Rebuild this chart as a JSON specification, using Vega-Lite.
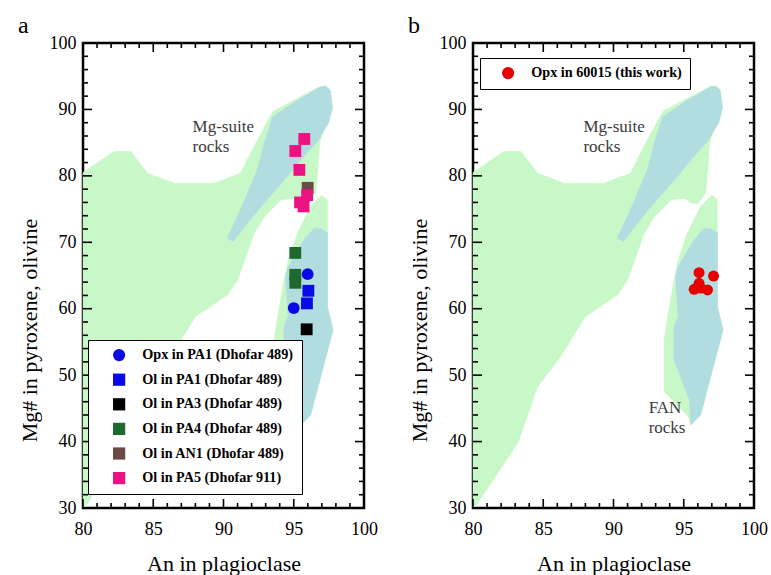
{
  "$schema": "https://vega.github.io/schema/vega-lite/v6.json",
  "padding": {"left": 16, "top": 12, "right": 0, "bottom": 0},
  "spacing": 27,
  "config": {
    "view": {"stroke": "black", "strokeWidth": 2.5},
    "font": "Liberation Serif",
    "axis": {
      "labelFont": "Liberation Serif", "labelFontSize": 18, "labelColor": "black", "labelFlush": false,
      "titleFont": "Liberation Serif", "titleFontSize": 22, "titleFontWeight": "normal", "titleColor": "black",
      "domain": false, "grid": false, "ticks": false
    },
    "tick": {"thickness": 1.6, "color": "black", "opacity": 1},
    "title": {"font": "Liberation Serif", "fontSize": 24, "fontWeight": "normal", "anchor": "start", "frame": "bounds", "color": "black"},
    "legend": {"labelFont": "Liberation Serif", "labelFontWeight": "bold", "labelFontSize": 14.2, "labelLimit": 400}
  },
  "datasets": {
    "green": [
      {"poly": "g1", "i": 1, "an": 80, "mg": 30},
      {"poly": "g1", "i": 2, "an": 80, "mg": 80.5},
      {"poly": "g1", "i": 3, "an": 82.2, "mg": 83.7},
      {"poly": "g1", "i": 4, "an": 83.4, "mg": 83.7},
      {"poly": "g1", "i": 5, "an": 84.6, "mg": 80.4},
      {"poly": "g1", "i": 6, "an": 86.5, "mg": 78.9},
      {"poly": "g1", "i": 7, "an": 89.3, "mg": 78.9},
      {"poly": "g1", "i": 8, "an": 91.2, "mg": 80.4},
      {"poly": "g1", "i": 9, "an": 92.3, "mg": 85},
      {"poly": "g1", "i": 10, "an": 93.5, "mg": 89.7},
      {"poly": "g1", "i": 11, "an": 96.9, "mg": 93.5},
      {"poly": "g1", "i": 12, "an": 97.3, "mg": 93.5},
      {"poly": "g1", "i": 13, "an": 97.6, "mg": 92.9},
      {"poly": "g1", "i": 14, "an": 97.75, "mg": 90.2},
      {"poly": "g1", "i": 15, "an": 97.2, "mg": 87.5},
      {"poly": "g1", "i": 16, "an": 96.85, "mg": 85},
      {"poly": "g1", "i": 17, "an": 96.7, "mg": 80.4},
      {"poly": "g1", "i": 18, "an": 96.55, "mg": 77.3},
      {"poly": "g1", "i": 19, "an": 96.0, "mg": 75.8},
      {"poly": "g1", "i": 20, "an": 95.5, "mg": 75.9},
      {"poly": "g1", "i": 21, "an": 95.1, "mg": 76.6},
      {"poly": "g1", "i": 22, "an": 94.1, "mg": 76.4},
      {"poly": "g1", "i": 23, "an": 92.9, "mg": 73.8},
      {"poly": "g1", "i": 24, "an": 92.2, "mg": 71.4},
      {"poly": "g1", "i": 25, "an": 91.0, "mg": 64.3},
      {"poly": "g1", "i": 26, "an": 90.3, "mg": 62.1},
      {"poly": "g1", "i": 27, "an": 88.0, "mg": 58.8},
      {"poly": "g1", "i": 28, "an": 86.2, "mg": 52.7},
      {"poly": "g1", "i": 29, "an": 84.6, "mg": 48.2},
      {"poly": "g1", "i": 30, "an": 83.2, "mg": 39.8},
      {"poly": "g1", "i": 31, "an": 80.3, "mg": 30.6},
      {"poly": "g2", "i": 1, "an": 96.98, "mg": 77.1},
      {"poly": "g2", "i": 2, "an": 97.4, "mg": 76.4},
      {"poly": "g2", "i": 3, "an": 97.4, "mg": 60.3},
      {"poly": "g2", "i": 4, "an": 97.8, "mg": 56.8},
      {"poly": "g2", "i": 5, "an": 96.2, "mg": 44.0},
      {"poly": "g2", "i": 6, "an": 95.5, "mg": 42.5},
      {"poly": "g2", "i": 7, "an": 95.3, "mg": 43.8},
      {"poly": "g2", "i": 8, "an": 93.6, "mg": 47.5},
      {"poly": "g2", "i": 9, "an": 93.6, "mg": 55.3},
      {"poly": "g2", "i": 10, "an": 93.9, "mg": 59.4},
      {"poly": "g2", "i": 11, "an": 94.3, "mg": 64.3},
      {"poly": "g2", "i": 12, "an": 94.6, "mg": 67.3},
      {"poly": "g2", "i": 13, "an": 95.26, "mg": 71.4},
      {"poly": "g2", "i": 14, "an": 96.2, "mg": 75.4}
    ],
    "blue": [
      {"poly": "b1", "i": 1, "an": 90.26, "mg": 70.6},
      {"poly": "b1", "i": 2, "an": 90.7, "mg": 70.1},
      {"poly": "b1", "i": 3, "an": 91.9, "mg": 73.4},
      {"poly": "b1", "i": 4, "an": 93.1, "mg": 76.4},
      {"poly": "b1", "i": 5, "an": 94.55, "mg": 79.9},
      {"poly": "b1", "i": 6, "an": 95.5, "mg": 82.4},
      {"poly": "b1", "i": 7, "an": 96.7, "mg": 85.2},
      {"poly": "b1", "i": 8, "an": 97.5, "mg": 88},
      {"poly": "b1", "i": 9, "an": 97.76, "mg": 90.2},
      {"poly": "b1", "i": 10, "an": 97.6, "mg": 92.9},
      {"poly": "b1", "i": 11, "an": 97.29, "mg": 93.5},
      {"poly": "b1", "i": 12, "an": 96.9, "mg": 93.4},
      {"poly": "b1", "i": 13, "an": 95.26, "mg": 91.4},
      {"poly": "b1", "i": 14, "an": 93.5, "mg": 88.9},
      {"poly": "b1", "i": 15, "an": 92.9, "mg": 85},
      {"poly": "b1", "i": 16, "an": 92.4, "mg": 80.9},
      {"poly": "b1", "i": 17, "an": 91.2, "mg": 74.9},
      {"poly": "b2", "i": 1, "an": 96.45, "mg": 72.1},
      {"poly": "b2", "i": 2, "an": 97.0, "mg": 72.0},
      {"poly": "b2", "i": 3, "an": 97.4, "mg": 71.4},
      {"poly": "b2", "i": 4, "an": 97.4, "mg": 60.3},
      {"poly": "b2", "i": 5, "an": 97.8, "mg": 56.8},
      {"poly": "b2", "i": 6, "an": 96.2, "mg": 44.0},
      {"poly": "b2", "i": 7, "an": 95.5, "mg": 42.5},
      {"poly": "b2", "i": 8, "an": 95.4, "mg": 46.3},
      {"poly": "b2", "i": 9, "an": 94.3, "mg": 52.3},
      {"poly": "b2", "i": 10, "an": 94.3, "mg": 57.3},
      {"poly": "b2", "i": 11, "an": 94.6, "mg": 58.8},
      {"poly": "b2", "i": 12, "an": 94.4, "mg": 64.8},
      {"poly": "b2", "i": 13, "an": 94.6, "mg": 66.3},
      {"poly": "b2", "i": 14, "an": 95.7, "mg": 70.3}
    ],
    "xMajor": [{"v": 80}, {"v": 85}, {"v": 90}, {"v": 95}, {"v": 100}],
    "xMinor": [{"v": 81}, {"v": 82}, {"v": 83}, {"v": 84}, {"v": 86}, {"v": 87}, {"v": 88}, {"v": 89}, {"v": 91}, {"v": 92}, {"v": 93}, {"v": 94}, {"v": 96}, {"v": 97}, {"v": 98}, {"v": 99}],
    "yMajor": [{"v": 30}, {"v": 40}, {"v": 50}, {"v": 60}, {"v": 70}, {"v": 80}, {"v": 90}, {"v": 100}],
    "yMinor": [{"v": 32}, {"v": 34}, {"v": 36}, {"v": 38}, {"v": 42}, {"v": 44}, {"v": 46}, {"v": 48}, {"v": 52}, {"v": 54}, {"v": 56}, {"v": 58}, {"v": 62}, {"v": 64}, {"v": 66}, {"v": 68}, {"v": 72}, {"v": 74}, {"v": 76}, {"v": 78}, {"v": 82}, {"v": 84}, {"v": 86}, {"v": 88}, {"v": 92}, {"v": 94}, {"v": 96}, {"v": 98}],
    "ptsA": [
      {"series": "Opx in PA1 (Dhofar 489)", "an": 95.99, "mg": 65.2},
      {"series": "Opx in PA1 (Dhofar 489)", "an": 95.0, "mg": 60.1},
      {"series": "Ol in PA1 (Dhofar 489)", "an": 96.04, "mg": 62.7},
      {"series": "Ol in PA1 (Dhofar 489)", "an": 95.94, "mg": 60.8},
      {"series": "Ol in PA3 (Dhofar 489)", "an": 95.92, "mg": 56.9},
      {"series": "Ol in PA4 (Dhofar 489)", "an": 95.11, "mg": 68.4},
      {"series": "Ol in PA4 (Dhofar 489)", "an": 95.11, "mg": 65.1},
      {"series": "Ol in PA4 (Dhofar 489)", "an": 95.11, "mg": 63.9},
      {"series": "Ol in AN1 (Dhofar 489)", "an": 95.99, "mg": 78.2},
      {"series": "Ol in PA5 (Dhofar 911)", "an": 95.75, "mg": 85.55},
      {"series": "Ol in PA5 (Dhofar 911)", "an": 95.11, "mg": 83.74},
      {"series": "Ol in PA5 (Dhofar 911)", "an": 95.4, "mg": 80.9},
      {"series": "Ol in PA5 (Dhofar 911)", "an": 95.95, "mg": 77.1},
      {"series": "Ol in PA5 (Dhofar 911)", "an": 95.45, "mg": 76.0},
      {"series": "Ol in PA5 (Dhofar 911)", "an": 95.7, "mg": 75.4}
    ],
    "ptsB": [
      {"series": "Opx in 60015 (this work)", "an": 96.09, "mg": 65.42},
      {"series": "Opx in 60015 (this work)", "an": 97.12, "mg": 64.92},
      {"series": "Opx in 60015 (this work)", "an": 96.09, "mg": 63.83},
      {"series": "Opx in 60015 (this work)", "an": 95.74, "mg": 62.92},
      {"series": "Opx in 60015 (this work)", "an": 96.69, "mg": 62.82},
      {"series": "Opx in 60015 (this work)", "an": 96.2, "mg": 63.1}
    ],
    "notesA": [
      {"an": 87.8, "mg": 88.5, "note": "Mg-suite\nrocks"}
    ],
    "notesB": [
      {"an": 87.86, "mg": 88.5, "note": "Mg-suite\nrocks"},
      {"an": 92.5, "mg": 46.3, "note": "FAN\nrocks"}
    ]
  },
  "resolve": {
    "scale": {"color": "independent", "shape": "independent"},
    "legend": {"color": "independent", "shape": "independent"}
  },
  "hconcat": [
    {
      "width": 281,
      "height": 465,
      "title": {"text": "a", "offset": -4},
      "resolve": {"axis": {"x": "independent", "y": "independent"}},
      "layer": [
        {
          "data": {"name": "green"},
          "mark": {"type": "line", "interpolate": "linear-closed", "fill": "#c8f8c8", "stroke": "#c8f8c8", "strokeWidth": 0.5},
          "encoding": {
            "x": {
              "field": "an", "type": "quantitative",
              "scale": {"domain": [80, 100], "nice": false, "zero": false},
              "axis": {"orient": "bottom", "title": "An in plagioclase", "titlePadding": 15, "values": [80, 85, 90, 95, 100], "labelPadding": 12}
            },
            "y": {
              "field": "mg", "type": "quantitative",
              "scale": {"domain": [30, 100], "nice": false, "zero": false},
              "axis": {"orient": "left", "title": "Mg# in pyroxene, olivine", "titlePadding": 8, "titleY": 287, "values": [30, 40, 50, 60, 70, 80, 90, 100], "labelPadding": 7}
            },
            "detail": {"field": "poly"},
            "order": {"field": "i"}
          }
        },
        {
          "data": {"name": "blue"},
          "mark": {"type": "line", "interpolate": "linear-closed", "fill": "#b2dde0", "stroke": "#b2dde0", "strokeWidth": 0.5},
          "encoding": {
            "x": {"field": "an", "type": "quantitative", "axis": null},
            "y": {"field": "mg", "type": "quantitative", "axis": null},
            "detail": {"field": "poly"},
            "order": {"field": "i"}
          }
        },
        {
          "data": {"name": "notesA"},
          "mark": {"type": "text", "align": "left", "baseline": "top", "lineBreak": "\n", "lineHeight": 20, "fontSize": 17, "font": "Liberation Serif", "color": "#3a3a3a"},
          "encoding": {
            "x": {"field": "an", "type": "quantitative", "axis": null},
            "y": {"field": "mg", "type": "quantitative", "axis": null},
            "text": {"field": "note"}
          }
        },
        {
          "data": {"name": "ptsA"},
          "mark": {"type": "point", "filled": true, "opacity": 1, "size": 140, "strokeWidth": 0},
          "encoding": {
            "x": {"field": "an", "type": "quantitative", "axis": null},
            "y": {"field": "mg", "type": "quantitative", "axis": null},
            "color": {
              "field": "series", "type": "nominal",
              "scale": {
                "domain": ["Opx in PA1 (Dhofar 489)", "Ol in PA1 (Dhofar 489)", "Ol in PA3 (Dhofar 489)", "Ol in PA4 (Dhofar 489)", "Ol in AN1 (Dhofar 489)", "Ol in PA5 (Dhofar 911)"],
                "range": ["#0a0ae6", "#0a0ae6", "#000000", "#1d6a2c", "#6b4b44", "#ec1282"]
              },
              "legend": {
                "title": null, "orient": "none", "legendX": 5, "legendY": 297,
                "strokeColor": "black", "fillColor": "white",
                "padding": 8, "rowPadding": 9.6, "symbolSize": 150, "symbolOffset": 16, "labelOffset": 16,
                "encode": {
                  "legend": {"update": {"strokeWidth": {"value": 1.5}}},
                  "labels": {
                    "update": {
                      "fill": {"signal": "datum.value === 'Opx in PA1 (Dhofar 489)' || datum.value === 'Ol in PA1 (Dhofar 489)' ? '#2a2ad2' : datum.value === 'Ol in PA3 (Dhofar 489)' ? '#111111' : datum.value === 'Ol in PA4 (Dhofar 489)' ? '#2a7a3a' : datum.value === 'Ol in AN1 (Dhofar 489)' ? '#7a5a52' : '#e0247f'"}
                    }
                  }
                }
              }
            },
            "shape": {
              "field": "series", "type": "nominal",
              "scale": {
                "domain": ["Opx in PA1 (Dhofar 489)", "Ol in PA1 (Dhofar 489)", "Ol in PA3 (Dhofar 489)", "Ol in PA4 (Dhofar 489)", "Ol in AN1 (Dhofar 489)", "Ol in PA5 (Dhofar 911)"],
                "range": ["circle", "square", "square", "square", "square", "square"]
              },
              "legend": {
                "title": null, "orient": "none", "legendX": 5, "legendY": 297,
                "strokeColor": "black", "fillColor": "white",
                "padding": 8, "rowPadding": 9.6, "symbolSize": 150, "symbolOffset": 16, "labelOffset": 16
              }
            }
          }
        },
        {"data": {"name": "xMajor"}, "mark": {"type": "tick", "orient": "vertical", "size": 9, "yOffset": -4.5},
          "encoding": {"x": {"field": "v", "type": "quantitative", "axis": null}, "y": {"datum": 30, "type": "quantitative", "axis": null}}},
        {"data": {"name": "xMinor"}, "mark": {"type": "tick", "orient": "vertical", "size": 5, "yOffset": -2.5},
          "encoding": {"x": {"field": "v", "type": "quantitative", "axis": null}, "y": {"datum": 30, "type": "quantitative", "axis": null}}},
        {"data": {"name": "xMajor"}, "mark": {"type": "tick", "orient": "vertical", "size": 9, "yOffset": 4.5},
          "encoding": {"x": {"field": "v", "type": "quantitative", "axis": null}, "y": {"datum": 100, "type": "quantitative", "axis": null}}},
        {"data": {"name": "xMinor"}, "mark": {"type": "tick", "orient": "vertical", "size": 5, "yOffset": 2.5},
          "encoding": {"x": {"field": "v", "type": "quantitative", "axis": null}, "y": {"datum": 100, "type": "quantitative", "axis": null}}},
        {"data": {"name": "yMajor"}, "mark": {"type": "tick", "orient": "horizontal", "size": 9, "xOffset": 4.5},
          "encoding": {"y": {"field": "v", "type": "quantitative", "axis": null}, "x": {"datum": 80, "type": "quantitative", "axis": null}}},
        {"data": {"name": "yMinor"}, "mark": {"type": "tick", "orient": "horizontal", "size": 5, "xOffset": 2.5},
          "encoding": {"y": {"field": "v", "type": "quantitative", "axis": null}, "x": {"datum": 80, "type": "quantitative", "axis": null}}},
        {"data": {"name": "yMajor"}, "mark": {"type": "tick", "orient": "horizontal", "size": 9, "xOffset": -4.5},
          "encoding": {"y": {"field": "v", "type": "quantitative", "axis": null}, "x": {"datum": 100, "type": "quantitative", "axis": null}}},
        {"data": {"name": "yMinor"}, "mark": {"type": "tick", "orient": "horizontal", "size": 5, "xOffset": -2.5},
          "encoding": {"y": {"field": "v", "type": "quantitative", "axis": null}, "x": {"datum": 100, "type": "quantitative", "axis": null}}}
      ]
    },
    {
      "width": 281,
      "height": 465,
      "title": {"text": "b", "offset": -4},
      "resolve": {"axis": {"x": "independent", "y": "independent"}},
      "layer": [
        {
          "data": {"name": "green"},
          "mark": {"type": "line", "interpolate": "linear-closed", "fill": "#c8f8c8", "stroke": "#c8f8c8", "strokeWidth": 0.5},
          "encoding": {
            "x": {
              "field": "an", "type": "quantitative",
              "scale": {"domain": [80, 100], "nice": false, "zero": false},
              "axis": {"orient": "bottom", "title": "An in plagioclase", "titlePadding": 15, "values": [80, 85, 90, 95, 100], "labelPadding": 12}
            },
            "y": {
              "field": "mg", "type": "quantitative",
              "scale": {"domain": [30, 100], "nice": false, "zero": false},
              "axis": {"orient": "left", "title": "Mg# in pyroxene, olivine", "titlePadding": 8, "titleY": 287, "values": [30, 40, 50, 60, 70, 80, 90, 100], "labelPadding": 7}
            },
            "detail": {"field": "poly"},
            "order": {"field": "i"}
          }
        },
        {
          "data": {"name": "blue"},
          "mark": {"type": "line", "interpolate": "linear-closed", "fill": "#b2dde0", "stroke": "#b2dde0", "strokeWidth": 0.5},
          "encoding": {
            "x": {"field": "an", "type": "quantitative", "axis": null},
            "y": {"field": "mg", "type": "quantitative", "axis": null},
            "detail": {"field": "poly"},
            "order": {"field": "i"}
          }
        },
        {
          "data": {"name": "notesB"},
          "mark": {"type": "text", "align": "left", "baseline": "top", "lineBreak": "\n", "lineHeight": 20, "fontSize": 17, "font": "Liberation Serif", "color": "#3a3a3a"},
          "encoding": {
            "x": {"field": "an", "type": "quantitative", "axis": null},
            "y": {"field": "mg", "type": "quantitative", "axis": null},
            "text": {"field": "note"}
          }
        },
        {
          "data": {"name": "ptsB"},
          "mark": {"type": "point", "filled": true, "opacity": 1, "size": 120, "strokeWidth": 0},
          "encoding": {
            "x": {"field": "an", "type": "quantitative", "axis": null},
            "y": {"field": "mg", "type": "quantitative", "axis": null},
            "color": {
              "field": "series", "type": "nominal",
              "scale": {"domain": ["Opx in 60015 (this work)"], "range": ["#e60000"]},
              "legend": {
                "title": null, "orient": "none", "legendX": 7, "legendY": 15,
                "strokeColor": "black", "fillColor": "white",
                "padding": 8, "symbolSize": 150, "symbolOffset": 13, "labelOffset": 16, "symbolType": "circle",
                "encode": {
                  "legend": {"update": {"strokeWidth": {"value": 1.5}}},
                  "labels": {"update": {"fill": {"value": "#d42020"}}}
                }
              }
            }
          }
        },
        {"data": {"name": "xMajor"}, "mark": {"type": "tick", "orient": "vertical", "size": 9, "yOffset": -4.5},
          "encoding": {"x": {"field": "v", "type": "quantitative", "axis": null}, "y": {"datum": 30, "type": "quantitative", "axis": null}}},
        {"data": {"name": "xMinor"}, "mark": {"type": "tick", "orient": "vertical", "size": 5, "yOffset": -2.5},
          "encoding": {"x": {"field": "v", "type": "quantitative", "axis": null}, "y": {"datum": 30, "type": "quantitative", "axis": null}}},
        {"data": {"name": "xMajor"}, "mark": {"type": "tick", "orient": "vertical", "size": 9, "yOffset": 4.5},
          "encoding": {"x": {"field": "v", "type": "quantitative", "axis": null}, "y": {"datum": 100, "type": "quantitative", "axis": null}}},
        {"data": {"name": "xMinor"}, "mark": {"type": "tick", "orient": "vertical", "size": 5, "yOffset": 2.5},
          "encoding": {"x": {"field": "v", "type": "quantitative", "axis": null}, "y": {"datum": 100, "type": "quantitative", "axis": null}}},
        {"data": {"name": "yMajor"}, "mark": {"type": "tick", "orient": "horizontal", "size": 9, "xOffset": 4.5},
          "encoding": {"y": {"field": "v", "type": "quantitative", "axis": null}, "x": {"datum": 80, "type": "quantitative", "axis": null}}},
        {"data": {"name": "yMinor"}, "mark": {"type": "tick", "orient": "horizontal", "size": 5, "xOffset": 2.5},
          "encoding": {"y": {"field": "v", "type": "quantitative", "axis": null}, "x": {"datum": 80, "type": "quantitative", "axis": null}}},
        {"data": {"name": "yMajor"}, "mark": {"type": "tick", "orient": "horizontal", "size": 9, "xOffset": -4.5},
          "encoding": {"y": {"field": "v", "type": "quantitative", "axis": null}, "x": {"datum": 100, "type": "quantitative", "axis": null}}},
        {"data": {"name": "yMinor"}, "mark": {"type": "tick", "orient": "horizontal", "size": 5, "xOffset": -2.5},
          "encoding": {"y": {"field": "v", "type": "quantitative", "axis": null}, "x": {"datum": 100, "type": "quantitative", "axis": null}}}
      ]
    }
  ]
}
